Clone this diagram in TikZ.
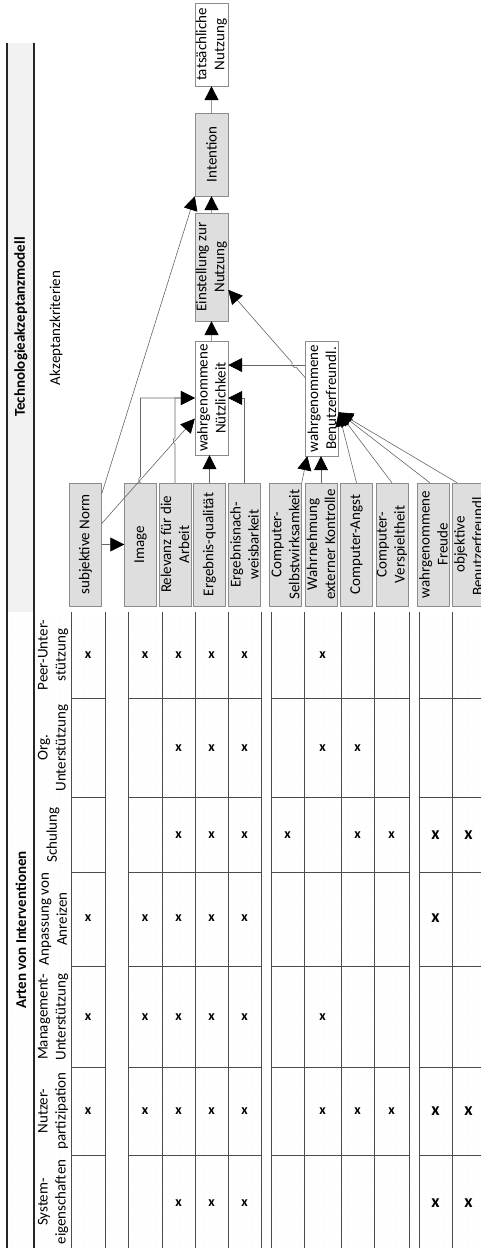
\documentclass[tikz,border=0pt]{standalone}
\usepackage{fontspec}
\setmainfont{Carlito}
\usetikzlibrary{arrows.meta,calc,intersections,patterns.meta}
\colorlet{fgx}{black!13}
\colorlet{bgx}{black!5}
\colorlet{rdx}{black!45}
\colorlet{lnx}{black!60}
\colorlet{dtx}{black!20}
\colorlet{grd}{black!70}
\tikzset{
    crit/.style={draw=rdx,fill=fgx,rotate=90,inner sep=0pt,align=center,
        minimum width=123pt,minimum height=32pt},
    model/.style={crit,minimum height=33pt},
    hdr/.style={rotate=90,align=center,inner sep=0pt},
    xmark/.style={inner sep=0pt,font=\bfseries\fontsize{#1}{#1}\selectfont},
    arr/.style={draw=lnx,line width=.6pt,-{Triangle[length=14pt,width=14pt,color=black]}},
    marr/.style={arr,draw=black!40,line width=1.3pt},
    edge/.style={black!85,line width=1.6pt},
    cell/.style={grd,line width=.6pt}
}

\begin{document}
\begin{tikzpicture}[x=1pt,y=-1pt,font=\fontsize{15}{18}\selectfont]
    \useasboundingbox (0,0) rectangle (481,1248);
    \fill[bgx] (7,43) rectangle (34,612);
    \fill[pattern={Dots[distance=6pt,radius=.4pt]},pattern color=dtx] (7,612) rectangle (481,1248);
    \draw[edge] (7,43) -- (7,1248);
    \draw[edge] (34,43) -- (34,1248);
    \node[hdr,font=\bfseries\fontsize{15}{18}\selectfont] (ttam) at (21,327) {Technologieakzeptanzmodell};
    \node[hdr,font=\bfseries\fontsize{15}{18}\selectfont] (tart) at (21,930) {Arten von Interventionen};
    \node[hdr] (tkrit) at (56,328) {Akzeptanzkriterien};

    \node[hdr] (hpeer) at (53,655) {Peer-Unter-\\stützung};
    \node[hdr] (horg) at (53,748) {Org.\\Unterstützung};
    \node[hdr] (hschul) at (53,835) {Schulung};
    \node[hdr] (hanr) at (53,919) {Anpassung von\\Anreizen};
    \node[hdr] (hman) at (53,1017) {Management-\\Unterstützung};
    \node[hdr] (hnutz) at (53,1111) {Nutzer-\\partizipation};
    \node[hdr] (hsys) at (53,1202) {System-\\eigenschaften};

    \foreach \gx in {71,105,128,162,195,228,261,271,304,341,374,409,419,452} {
        \draw[cell] (\gx,612) -- (\gx,1248);
    }
    \foreach \gy in {698,797,872,966,1067,1155} {
        \draw[cell] (71,\gy) -- (105,\gy) (128,\gy) -- (261,\gy)
            (271,\gy) -- (409,\gy) (419,\gy) -- (485,\gy);
    }
    \foreach \ry/\cl in {655/{1,2,3,4,5,7},748/{3,4,5,7,8},835/{3,4,5,6,8,9,10,11},
            918/{1,2,3,4,5,10},1017/{1,2,3,4,5,7},1111/{1,2,3,4,5,7,8,9,10,11},
            1203/{3,4,5,10,11}} {
        \foreach \c in \cl {
            \pgfmathsetmacro\cx{{88,145,178.5,211.5,244.5,287.5,322.5,357.5,391.5,435.5,468.5}[\c-1]}
            \pgfmathtruncatemacro\cf{\c>9 ? 18 : 14}
            \node[xmark=\cf] (m\c-\ry) at (\cx,\ry) {x};
        }
    }

    \node[crit] (norm) at (85.5,544.5) {subjektive Norm};
    \node[crit] (img) at (140.5,544.5) {Image};
    \node[crit] (rel) at (175,544.5) {Relevanz für die\\Arbeit};
    \node[crit] (erg) at (209.5,544.5) {Ergebnis-qualität};
    \node[crit] (nach) at (244.5,544.5) {Ergebnisnach-\\weisbarkeit};
    \node[crit] (selbst) at (285.5,544.5) {Computer-\\Selbstwirksamkeit};
    \node[crit] (wahrn) at (321,544.5) {Wahrnehmung\\externer Kontrolle};
    \node[crit] (angst) at (356.5,544.5) {Computer-Angst};
    \node[crit] (versp) at (392,544.5) {Computer-\\Verspieltheit};
    \node[crit] (freude) at (433.5,544.5) {wahrgenommene\\Freude};
    \node[crit] (objekt) at (468.5,544.5) {objektive\\Benutzerfreundl.};

    \node[model,minimum width=83pt,fill=white] (nutzung) at (211.5,44.5) {tatsächliche\\Nutzung};
    \node[model,minimum width=83pt] (intent) at (211.5,154.5) {Intention};
    \node[model,minimum width=108pt] (einst) at (211.5,267) {Einstellung zur\\Nutzung};
    \node[model,minimum width=114pt,fill=white] (nuetz) at (211.5,398) {wahrgenommene\\Nützlichkeit};
    \node[model,minimum width=115pt,fill=white] (benutz) at (322,398.5) {wahrgenommene\\Benutzerfreundl.};

    \coordinate (nsA) at ($(norm.south east)!.33!(norm.south west)$);
    \coordinate (nsB) at ($(nuetz.north east)!.68!(nuetz.north west)$);
    \coordinate (beA) at ($(benutz.north east)!.32!(benutz.north west)$);
    \coordinate (beB) at ($(einst.south east)!.71!(einst.south west)$);
    \coordinate (bnA) at ($(benutz.north east)!.21!(benutz.north west)$);
    \coordinate (bfan) at ($(benutz.south east)!.62!(benutz.south west)$);
    \path[name path=nsline] (nsA) -- (nsB);
    \path[name path=imgline] (img.east) -- (img.east |- nuetz.north);
    \path[name path=relline] (rel.east) -- (rel.east |- nuetz.north);
    \path[name path=beline] (beA) -- (beB);
    \path[name path=bnline] (bnA) -- (bnA -| nuetz.south);
    \path[name intersections={of=nsline and imgline,by=hopi}];
    \path[name intersections={of=nsline and relline,by=hopr}];
    \path[name intersections={of=beline and bnline,by=hopb}];

    \draw[marr] (intent) -- (nutzung);
    \draw[marr] (einst) -- (intent);
    \draw[marr] (nuetz) -- (einst);
    \draw[arr] ($(norm.south east)!.09!(norm.south west)$) -- (intent.north west);
    \draw[arr] (norm) -- (img);
    \draw[arr] (nsA) -- (nsB);
    \draw[arr] (img.east) -- ($(hopi)+(0,3)$) to[bend left=90] ($(hopi)+(0,-3)$) |- (nuetz.north);
    \draw[arr] (rel.east) -- ($(hopr)+(0,3)$) to[bend left=90] ($(hopr)+(0,-3)$) |- (nuetz.north);
    \draw[arr] (erg.east) -- (erg.east |- nuetz.west);
    \draw[arr] (nach.east) |- (nuetz.south);
    \draw[arr] (bnA) -- (bnA -| nuetz.south);
    \draw[arr] (beA) -- ($(hopb)!3pt!(beA)$) to[bend left=90] ($(hopb)!3pt!(beB)$) -- (beB);
    \draw[arr] (selbst.south east) -- ($(benutz.north west)!.06!(benutz.south west)$);
    \draw[arr] (wahrn.east) -- (wahrn.east |- benutz.west);
    \draw[arr] (angst.east) -- (bfan);
    \draw[arr] (versp.east) -- (bfan);
    \draw[arr] ($(freude.north east)!.39!(freude.south east)$) -- (bfan);
    \draw[arr] ($(objekt.north east)!.15!(objekt.south east)$) -- (bfan);
\end{tikzpicture}
\end{document}
